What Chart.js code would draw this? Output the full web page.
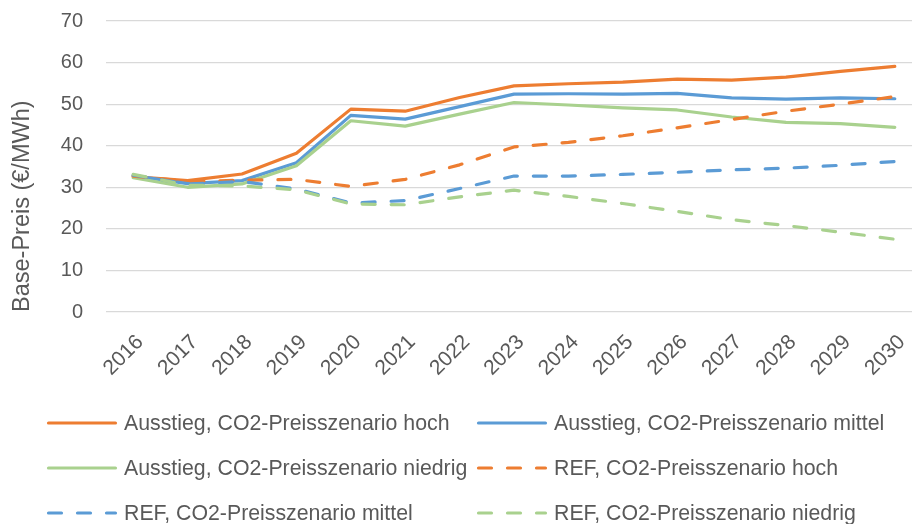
<!DOCTYPE html>
<html>
<head>
<meta charset="utf-8">
<script src="https://cdn.jsdelivr.net/npm/chart.js@4.4.1/dist/chart.umd.min.js"></script>
<style>
html, body { margin: 0; padding: 0; background: #fff; overflow: hidden; width: 912px; height: 524px; }
#wrap { position: relative; width: 922px; height: 524px; }
</style>
</head>
<body>
<div id="wrap"><canvas id="c" width="922" height="524"></canvas></div>
<script>
const years = ['2016','2017','2018','2019','2020','2021','2022','2023','2024','2025','2026','2027','2028','2029','2030'];
const ausstiegHoch    = [32.6, 31.6, 33.2, 38.2, 48.8, 48.3, 51.6, 54.4, 54.9, 55.3, 56.0, 55.8, 56.5, 57.9, 59.1];
const ausstiegMittel  = [32.8, 30.9, 31.6, 35.9, 47.3, 46.4, 49.4, 52.4, 52.5, 52.4, 52.6, 51.5, 51.2, 51.5, 51.3];
const ausstiegNiedrig = [32.3, 30.0, 30.8, 35.2, 46.0, 44.7, 47.6, 50.4, 49.8, 49.1, 48.6, 46.9, 45.6, 45.3, 44.4];
const refHoch         = [32.7, 31.4, 31.7, 31.9, 30.2, 31.9, 35.4, 39.7, 40.8, 42.4, 44.3, 46.3, 48.3, 50.0, 51.8];
const refMittel       = [32.9, 30.8, 31.4, 29.6, 26.2, 26.8, 29.7, 32.7, 32.7, 33.1, 33.6, 34.2, 34.6, 35.3, 36.2];
const refNiedrig      = [33.1, 30.5, 30.3, 29.4, 26.0, 25.8, 27.7, 29.3, 27.8, 26.1, 24.2, 22.2, 20.8, 19.2, 17.5];
const seriesNames = [
  'Ausstieg, CO2-Preisszenario hoch',
  'Ausstieg, CO2-Preisszenario mittel',
  'Ausstieg, CO2-Preisszenario niedrig',
  'REF, CO2-Preisszenario hoch',
  'REF, CO2-Preisszenario mittel',
  'REF, CO2-Preisszenario niedrig'
];
const yTicks = [0, 10, 20, 30, 40, 50, 60, 70];
const yTitle = 'Base-Preis (€/MWh)';

const ORANGE = '#ED7D31', BLUE = '#5B9BD5', GREEN = '#A9D18E';
const FONT = '"Liberation Sans", Arial, sans-serif';
const DASH = [13, 16];

function ds(label, data, color, dashed) {
  return {
    label, data,
    borderColor: color, backgroundColor: color,
    borderWidth: 3.2,
    borderDash: dashed ? DASH : [],
    borderCapStyle: 'round',
    borderJoinStyle: 'round',
    pointRadius: 0, pointHoverRadius: 0,
    tension: 0, fill: false
  };
}

const datasets = [
  ds(seriesNames[5], refNiedrig, GREEN, true),
  ds(seriesNames[4], refMittel, BLUE, true),
  ds(seriesNames[3], refHoch, ORANGE, true),
  ds(seriesNames[2], ausstiegNiedrig, GREEN, false),
  ds(seriesNames[1], ausstiegMittel, BLUE, false),
  ds(seriesNames[0], ausstiegHoch, ORANGE, false)
];

const legendItems = [
  { text: seriesNames[0], color: ORANGE, dashed: false },
  { text: seriesNames[1], color: BLUE, dashed: false },
  { text: seriesNames[2], color: GREEN, dashed: false },
  { text: seriesNames[3], color: ORANGE, dashed: true },
  { text: seriesNames[4], color: BLUE, dashed: true },
  { text: seriesNames[5], color: GREEN, dashed: true }
];

const gridLegend = {
  id: 'gridLegend',
  afterDraw(chart) {
    const ctx = chart.ctx;
    const colX = [47, 477];
    const rowY = [423, 468, 513];
    ctx.save();
    ctx.font = '21.3px ' + FONT;
    ctx.textBaseline = 'middle';
    ctx.textAlign = 'left';
    legendItems.forEach((it, i) => {
      const x = colX[i % 2], y = rowY[Math.floor(i / 2)];
      ctx.strokeStyle = it.color;
      ctx.lineWidth = 3.2;
      ctx.lineCap = 'round';
      ctx.setLineDash(it.dashed ? DASH : []);
      ctx.beginPath();
      ctx.moveTo(x + 1.5, y);
      ctx.lineTo(x + 68.5, y);
      ctx.stroke();
      ctx.setLineDash([]);
      ctx.fillStyle = '#595959';
      ctx.fillText(it.text, x + 77, y + 1);
    });
    ctx.restore();
  }
};

new Chart(document.getElementById('c'), {
  type: 'line',
  data: { labels: years, datasets },
  plugins: [gridLegend],
  options: {
    responsive: false,
    animation: false,
    events: [],
    layout: { padding: { top: 21, left: 0, right: 0, bottom: 132 } },
    plugins: { legend: { display: false }, tooltip: { enabled: false } },
    scales: {
      x: {
        offset: true,
        grid: { display: false, drawTicks: false },
        border: { display: false },
        ticks: {
          color: '#595959', font: { family: FONT, size: 21 },
          minRotation: 45, maxRotation: 45, padding: 18, labelOffset: 7, autoSkip: false
        },
        afterFit(s) { s.height = 80; s.paddingLeft = 0; s.paddingRight = 0; }
      },
      y: {
        min: 0, max: 70,
        afterBuildTicks(s) { s.ticks = yTicks.map(v => ({ value: v })); },
        grid: { color: '#D9D9D9', lineWidth: 1.2, drawTicks: false },
        border: { display: false },
        ticks: { color: '#595959', font: { family: FONT, size: 20 }, padding: 23 },
        title: {
          display: true, text: yTitle, color: '#595959', align: 'start',
          font: { family: FONT, size: 23.5 }, padding: { top: 8, bottom: 0 }
        },
        afterFit(s) { s.width = 106; s.paddingTop = 0; s.paddingBottom = 0; }
      }
    }
  }
});
</script>
</body>
</html>
